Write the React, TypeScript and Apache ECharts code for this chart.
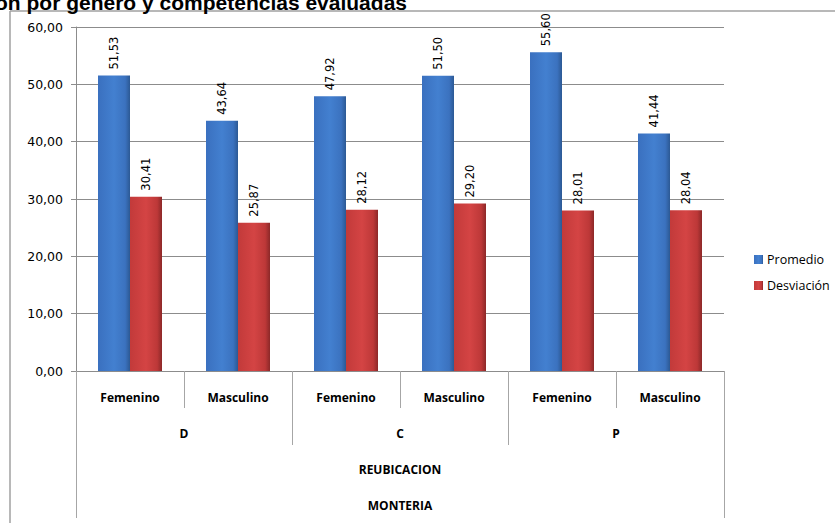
import React, { useEffect, useRef } from "react";
import * as echarts from "echarts";

const categories = ["Femenino", "Masculino", "Femenino", "Masculino", "Femenino", "Masculino"];
const groups = ["D", "C", "P"];
const level3 = ["REUBICACION"];
const level4 = ["MONTERIA"];
const seriesNames = ["Promedio", "Desviación"];
const promedio = [51.53, 43.64, 47.92, 51.5, 55.6, 41.44];
const desviacion = [30.41, 25.87, 28.12, 29.2, 28.01, 28.04];
const titleText = "ón por género y competencias evaluadas";
const yMin = 0;
const yMax = 60;
const yInterval = 10;

const fmt = (v: number) => v.toFixed(2).replace(".", ",");

export default function App() {
  const ref = useRef<HTMLDivElement>(null);
  useEffect(() => {
    if (!ref.current) return;
    const chart = echarts.init(ref.current, undefined, { renderer: "svg" });
    const grey = "#8c8c8c";
    const sep = "#a6a6a6";
    const catLabel = { fontFamily: "Open Sans", fontWeight: "bold" as const, fontSize: 12, color: "#000" };
    const blue = new echarts.graphic.LinearGradient(0, 0, 1, 0, [
      { offset: 0, color: "#3a70bf" },
      { offset: 0.5, color: "#4380d0" },
      { offset: 0.85, color: "#3b72bf" },
      { offset: 1, color: "#2c5994" },
    ]);
    const red = new echarts.graphic.LinearGradient(0, 0, 1, 0, [
      { offset: 0, color: "#c23a3a" },
      { offset: 0.5, color: "#d44444" },
      { offset: 0.85, color: "#bd3838" },
      { offset: 1, color: "#8c2828" },
    ]);
    const labelOpt = {
      show: true,
      position: "top" as const,
      rotate: 90,
      align: "left" as const,
      verticalAlign: "middle" as const,
      distance: 6,
      fontFamily: "DejaVu Sans",
      fontSize: 11.5,
      color: "#000",
      formatter: (p: any) => fmt(p.value),
    };
    chart.setOption({
      animation: false,
      backgroundColor: "#fff",
      grid: { left: 76, right: 111, top: 27, bottom: 152, containLabel: false },
      legend: {
        data: seriesNames,
        orient: "vertical",
        left: 749,
        top: 248,
        itemWidth: 9,
        itemHeight: 9,
        itemGap: 13,
        itemStyle: { borderWidth: 0 },
        icon: "rect",
        textStyle: { fontFamily: "Open Sans", fontSize: 12.5, color: "#000", padding: [0, 0, 0, -1] },
      },
      xAxis: [
        {
          type: "category",
          data: categories,
          position: "bottom",
          axisLine: { show: true, lineStyle: { color: grey, width: 1 } },
          axisTick: { show: true, interval: 0, length: 37, lineStyle: { color: sep } },
          axisLabel: { interval: 0, margin: 20, ...catLabel },
        },
        {
          type: "category",
          data: groups,
          position: "bottom",
          axisLine: { show: false },
          axisTick: { show: true, interval: 0, length: 74, lineStyle: { color: sep } },
          axisLabel: { interval: 0, margin: 56, ...catLabel },
        },
        {
          type: "category",
          data: level3,
          position: "bottom",
          axisLine: { show: false },
          axisTick: { show: true, interval: 0, length: 147, lineStyle: { color: sep } },
          axisLabel: { interval: 0, margin: 92, ...catLabel },
        },
        {
          type: "category",
          data: level4,
          position: "bottom",
          axisLine: { show: false },
          axisTick: { show: false },
          axisLabel: { interval: 0, margin: 128, ...catLabel },
        },
      ],
      yAxis: {
        type: "value",
        min: yMin,
        max: yMax,
        interval: yInterval,
        axisLine: { show: true, lineStyle: { color: grey } },
        axisTick: { show: true, length: 5, lineStyle: { color: grey } },
        splitLine: { show: true, lineStyle: { color: grey, width: 1 } },
        axisLabel: {
          margin: 13,
          fontFamily: "DejaVu Sans",
          fontSize: 12.5,
          color: "#000",
          formatter: (v: number) => fmt(v),
        },
      },
      series: [
        {
          name: seriesNames[0],
          type: "bar",
          xAxisIndex: 0,
          data: promedio,
          barWidth: 32,
          barGap: "0%",
          itemStyle: { color: blue },
          label: labelOpt,
        },
        {
          name: seriesNames[1],
          type: "bar",
          xAxisIndex: 0,
          data: desviacion,
          barWidth: 32,
          barGap: "0%",
          itemStyle: { color: red },
          label: labelOpt,
        },
      ],
      graphic: [
        {
          type: "line",
          shape: { x1: 10, y1: 11, x2: 835, y2: 11 },
          style: { stroke: "#a0a0a0", lineWidth: 1.5 },
        },
        {
          type: "line",
          shape: { x1: 10, y1: 11, x2: 10, y2: 523 },
          style: { stroke: "#a0a0a0", lineWidth: 1.5 },
        },
        {
          type: "text",
          x: 407,
          y: 13,
          style: {
            text: titleText,
            align: "right",
            verticalAlign: "bottom",
            fontFamily: "Liberation Sans",
            fontWeight: "bold",
            fontSize: 21,
            fill: "#000",
          },
        },
      ],
    });
    return () => chart.dispose();
  }, []);
  return (
    <div
      ref={ref}
      style={{ position: "fixed", left: 0, top: 0, width: 835, height: 523 }}
    />
  );
}
